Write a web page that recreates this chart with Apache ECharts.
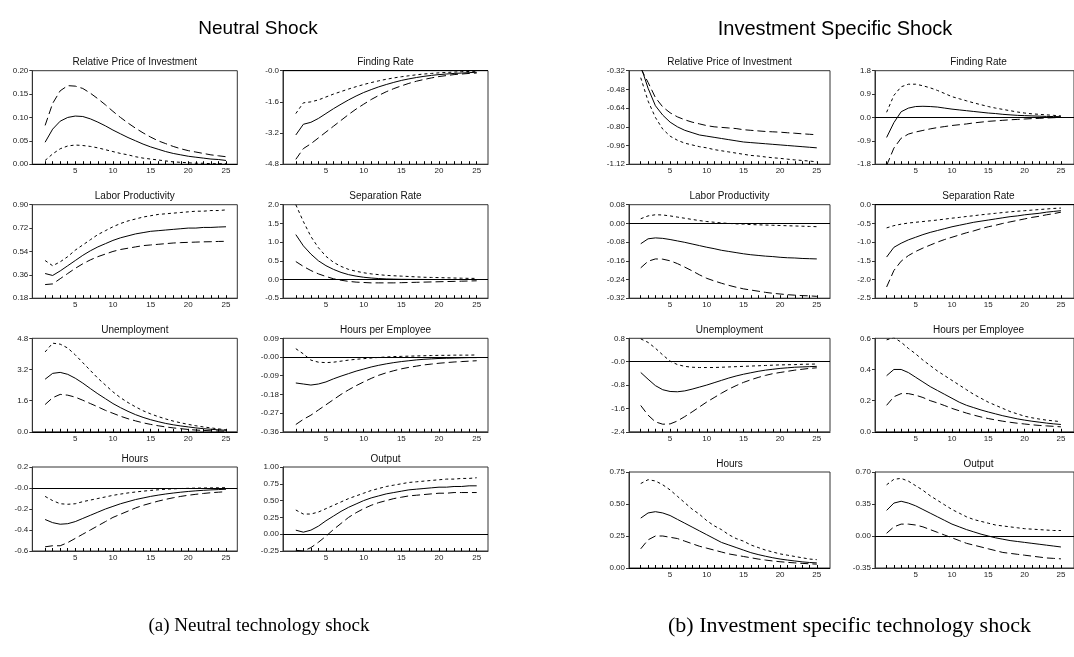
<!DOCTYPE html>
<html><head><meta charset="utf-8">
<script src="https://cdn.jsdelivr.net/npm/echarts@6/dist/echarts.min.js"></script>
<style>html,body{margin:0;padding:0;background:#fff}#c{width:1074px;height:657px}</style>
</head><body><div id="c"></div>
<script>
// ---------- DATA ----------
const periods = [1,2,3,4,5,6,7,8,9,10,11,12,13,14,15,16,17,18,19,20,21,22,23,24,25];
const xLabels = [5,10,15,20,25];

// Neutral shock
const n_rpi_mid   = [0.047,0.075,0.092,0.100,0.103,0.102,0.097,0.090,0.082,0.073,0.065,0.057,0.050,0.043,0.037,0.032,0.027,0.023,0.020,0.017,0.015,0.013,0.011,0.010,0.008];
const n_rpi_long  = [0.083,0.130,0.157,0.168,0.167,0.162,0.152,0.140,0.127,0.113,0.100,0.088,0.077,0.067,0.058,0.050,0.044,0.038,0.033,0.029,0.026,0.023,0.020,0.018,0.016];
const n_rpi_short = [0.008,0.022,0.033,0.039,0.041,0.040,0.038,0.035,0.031,0.027,0.023,0.020,0.016,0.013,0.011,0.009,0.007,0.005,0.004,0.003,0.002,0.002,0.001,0.001,0.001];
const n_rpi_ticks = ['0.00','0.05','0.10','0.15','0.20'];

const n_fr_mid   = [-3.3,-2.75,-2.65,-2.45,-2.2,-1.95,-1.72,-1.5,-1.3,-1.12,-0.97,-0.83,-0.71,-0.6,-0.5,-0.42,-0.35,-0.29,-0.24,-0.2,-0.17,-0.14,-0.12,-0.1,-0.08];
const n_fr_short = [-2.2,-1.65,-1.6,-1.5,-1.35,-1.2,-1.07,-0.94,-0.82,-0.71,-0.61,-0.52,-0.44,-0.37,-0.31,-0.26,-0.21,-0.17,-0.14,-0.11,-0.09,-0.07,-0.05,-0.04,-0.03];
const n_fr_long  = [-4.55,-4.0,-3.75,-3.45,-3.15,-2.85,-2.55,-2.25,-1.97,-1.72,-1.48,-1.27,-1.08,-0.92,-0.78,-0.65,-0.54,-0.45,-0.37,-0.3,-0.25,-0.2,-0.17,-0.14,-0.12];
const n_fr_ticks = ['-4.8','-3.2','-1.6','-0.0'];

const n_lp_mid   = [0.37,0.355,0.39,0.43,0.47,0.51,0.545,0.575,0.60,0.625,0.645,0.66,0.675,0.685,0.695,0.70,0.705,0.71,0.715,0.72,0.72,0.725,0.725,0.728,0.73];
const n_lp_short = [0.47,0.43,0.46,0.50,0.55,0.59,0.63,0.67,0.70,0.73,0.755,0.775,0.79,0.805,0.815,0.825,0.83,0.835,0.84,0.845,0.85,0.85,0.855,0.855,0.86];
const n_lp_long  = [0.285,0.29,0.33,0.37,0.41,0.445,0.475,0.50,0.52,0.54,0.555,0.565,0.575,0.585,0.59,0.595,0.60,0.605,0.608,0.61,0.612,0.614,0.615,0.617,0.618];
const n_lp_ticks = ['0.18','0.36','0.54','0.72','0.90'];

const n_sep_mid   = [1.2,0.9,0.68,0.5,0.37,0.27,0.19,0.13,0.09,0.06,0.04,0.025,0.015,0.01,0.005,0.003,0.002,0.001,0.0,0.0,0.0,0.0,0.0,0.0,0.0];
const n_sep_short = [2.0,1.55,1.15,0.85,0.62,0.46,0.35,0.27,0.22,0.18,0.15,0.13,0.11,0.1,0.09,0.08,0.07,0.06,0.055,0.05,0.045,0.04,0.035,0.03,0.03];
const n_sep_long  = [0.48,0.35,0.24,0.15,0.08,0.02,-0.02,-0.05,-0.07,-0.08,-0.09,-0.09,-0.09,-0.09,-0.085,-0.08,-0.075,-0.07,-0.065,-0.06,-0.055,-0.05,-0.045,-0.04,-0.035];
const n_sep_ticks = ['-0.5','0.0','0.5','1.0','1.5','2.0'];

const n_un_mid   = [2.7,3.0,3.05,2.95,2.75,2.5,2.22,1.95,1.7,1.45,1.24,1.05,0.88,0.74,0.62,0.52,0.43,0.36,0.3,0.25,0.2,0.16,0.13,0.1,0.08];
const n_un_short = [4.1,4.55,4.5,4.3,3.95,3.55,3.15,2.75,2.4,2.05,1.75,1.5,1.28,1.08,0.92,0.78,0.66,0.55,0.46,0.38,0.31,0.25,0.2,0.15,0.1];
const n_un_long  = [1.4,1.75,1.92,1.88,1.78,1.62,1.45,1.28,1.1,0.95,0.8,0.67,0.56,0.46,0.38,0.31,0.25,0.2,0.16,0.12,0.09,0.07,0.05,0.04,0.03];
const n_un_ticks = ['0.0','1.6','3.2','4.8'];

const n_hpe_mid   = [-0.125,-0.13,-0.135,-0.13,-0.12,-0.105,-0.092,-0.08,-0.068,-0.058,-0.048,-0.04,-0.033,-0.027,-0.022,-0.018,-0.014,-0.011,-0.009,-0.007,-0.006,-0.005,-0.004,-0.003,-0.003];
const n_hpe_short = [0.04,0.015,-0.015,-0.025,-0.027,-0.025,-0.02,-0.015,-0.011,-0.008,-0.005,-0.002,0.0,0.002,0.003,0.004,0.005,0.006,0.007,0.008,0.008,0.009,0.009,0.009,0.01];
const n_hpe_long  = [-0.325,-0.3,-0.28,-0.255,-0.23,-0.205,-0.18,-0.158,-0.138,-0.12,-0.103,-0.088,-0.076,-0.066,-0.057,-0.05,-0.044,-0.038,-0.034,-0.03,-0.027,-0.024,-0.022,-0.02,-0.018];
const n_hpe_ticks = ['-0.36','-0.27','-0.18','-0.09','-0.00','0.09'];

const n_h_mid   = [-0.30,-0.33,-0.345,-0.34,-0.32,-0.29,-0.26,-0.23,-0.2,-0.175,-0.15,-0.13,-0.11,-0.095,-0.08,-0.068,-0.057,-0.048,-0.04,-0.033,-0.027,-0.022,-0.018,-0.015,-0.012];
const n_h_short = [-0.08,-0.12,-0.15,-0.155,-0.15,-0.13,-0.115,-0.1,-0.085,-0.07,-0.058,-0.047,-0.038,-0.03,-0.023,-0.017,-0.012,-0.008,-0.005,-0.003,-0.001,0.0,0.001,0.002,0.003];
const n_h_long  = [-0.56,-0.55,-0.55,-0.52,-0.48,-0.44,-0.4,-0.36,-0.32,-0.28,-0.25,-0.22,-0.19,-0.165,-0.145,-0.125,-0.108,-0.093,-0.08,-0.069,-0.06,-0.052,-0.045,-0.04,-0.035];
const n_h_ticks = ['-0.6','-0.4','-0.2','-0.0','0.2'];

const n_out_mid   = [0.06,0.03,0.06,0.12,0.2,0.27,0.34,0.4,0.45,0.5,0.54,0.57,0.6,0.62,0.64,0.66,0.67,0.68,0.69,0.7,0.7,0.71,0.71,0.72,0.72];
const n_out_short = [0.36,0.3,0.3,0.33,0.38,0.43,0.48,0.53,0.57,0.61,0.65,0.68,0.71,0.73,0.75,0.77,0.78,0.79,0.8,0.81,0.82,0.82,0.83,0.83,0.84];
const n_out_long  = [-0.24,-0.25,-0.2,-0.12,-0.03,0.07,0.16,0.25,0.32,0.38,0.43,0.47,0.5,0.53,0.55,0.57,0.58,0.59,0.6,0.61,0.61,0.62,0.62,0.62,0.62];
const n_out_ticks = ['-0.25','0.00','0.25','0.50','0.75','1.00'];

// Investment specific shock
const i_rpi_mid   = [-0.28,-0.47,-0.62,-0.70,-0.76,-0.80,-0.83,-0.85,-0.87,-0.88,-0.89,-0.90,-0.91,-0.92,-0.93,-0.935,-0.94,-0.945,-0.95,-0.955,-0.96,-0.965,-0.97,-0.975,-0.98];
const i_rpi_long  = [-0.30,-0.42,-0.55,-0.63,-0.68,-0.715,-0.74,-0.76,-0.775,-0.79,-0.80,-0.805,-0.81,-0.815,-0.825,-0.83,-0.835,-0.84,-0.843,-0.846,-0.851,-0.855,-0.86,-0.864,-0.868];
const i_rpi_short = [-0.38,-0.58,-0.72,-0.82,-0.88,-0.915,-0.94,-0.955,-0.97,-0.98,-0.995,-1.005,-1.015,-1.025,-1.035,-1.045,-1.05,-1.058,-1.065,-1.07,-1.077,-1.083,-1.088,-1.093,-1.10];
const i_rpi_ticks = ['-1.12','-0.96','-0.80','-0.64','-0.48','-0.32'];

const i_fr_mid   = [-0.77,-0.2,0.22,0.36,0.42,0.43,0.42,0.4,0.36,0.32,0.29,0.26,0.23,0.2,0.17,0.15,0.12,0.1,0.08,0.07,0.06,0.05,0.04,0.035,0.03];
const i_fr_short = [0.2,0.85,1.18,1.28,1.28,1.22,1.14,1.04,0.92,0.8,0.72,0.64,0.56,0.49,0.42,0.36,0.31,0.26,0.21,0.17,0.14,0.12,0.1,0.08,0.06];
const i_fr_long  = [-1.85,-1.18,-0.8,-0.64,-0.56,-0.5,-0.44,-0.39,-0.35,-0.31,-0.28,-0.25,-0.21,-0.18,-0.15,-0.13,-0.11,-0.09,-0.075,-0.06,-0.045,-0.035,-0.02,-0.01,0.0];
const i_fr_ticks = ['-1.8','-0.9','0.0','0.9','1.8'];

const i_lp_mid   = [-0.087,-0.066,-0.062,-0.064,-0.069,-0.075,-0.081,-0.088,-0.095,-0.102,-0.108,-0.115,-0.12,-0.125,-0.13,-0.134,-0.137,-0.14,-0.142,-0.145,-0.147,-0.148,-0.15,-0.151,-0.152];
const i_lp_short = [0.02,0.032,0.037,0.036,0.032,0.027,0.022,0.017,0.012,0.008,0.005,0.002,0.0,-0.002,-0.003,-0.005,-0.006,-0.007,-0.008,-0.009,-0.01,-0.011,-0.012,-0.013,-0.014];
const i_lp_long  = [-0.19,-0.162,-0.152,-0.153,-0.16,-0.172,-0.187,-0.203,-0.22,-0.235,-0.246,-0.256,-0.265,-0.273,-0.28,-0.285,-0.29,-0.295,-0.299,-0.302,-0.305,-0.307,-0.309,-0.31,-0.312];
const i_lp_ticks = ['-0.32','-0.24','-0.16','-0.08','0.00','0.08'];

const i_sep_mid   = [-1.4,-1.14,-1.03,-0.94,-0.87,-0.8,-0.74,-0.69,-0.64,-0.59,-0.55,-0.51,-0.47,-0.44,-0.41,-0.38,-0.35,-0.32,-0.3,-0.27,-0.25,-0.23,-0.2,-0.18,-0.16];
const i_sep_short = [-0.62,-0.56,-0.52,-0.49,-0.47,-0.45,-0.43,-0.41,-0.385,-0.36,-0.34,-0.315,-0.295,-0.27,-0.25,-0.23,-0.21,-0.19,-0.175,-0.16,-0.145,-0.13,-0.115,-0.1,-0.09];
const i_sep_long  = [-2.2,-1.76,-1.51,-1.36,-1.25,-1.16,-1.08,-1.0,-0.93,-0.87,-0.81,-0.75,-0.7,-0.64,-0.59,-0.55,-0.5,-0.46,-0.42,-0.38,-0.34,-0.31,-0.27,-0.24,-0.2];
const i_sep_ticks = ['-2.5','-2.0','-1.5','-1.0','-0.5','0.0'];

const i_un_mid   = [-0.37,-0.6,-0.82,-0.96,-1.02,-1.03,-1.0,-0.94,-0.87,-0.8,-0.72,-0.64,-0.56,-0.49,-0.43,-0.38,-0.33,-0.29,-0.26,-0.23,-0.21,-0.19,-0.18,-0.17,-0.16];
const i_un_short = [0.78,0.66,0.46,0.23,0.02,-0.1,-0.16,-0.19,-0.2,-0.2,-0.2,-0.19,-0.18,-0.17,-0.16,-0.15,-0.14,-0.13,-0.12,-0.11,-0.105,-0.1,-0.09,-0.085,-0.08];
const i_un_long  = [-1.5,-1.83,-2.06,-2.14,-2.13,-2.03,-1.88,-1.72,-1.55,-1.38,-1.23,-1.08,-0.94,-0.82,-0.71,-0.62,-0.54,-0.47,-0.41,-0.37,-0.33,-0.29,-0.26,-0.23,-0.21];
const i_un_ticks = ['-2.4','-1.6','-0.8','-0.0','0.8'];

const i_hpe_mid   = [0.36,0.4,0.4,0.38,0.35,0.32,0.29,0.265,0.24,0.215,0.19,0.17,0.155,0.14,0.127,0.115,0.103,0.093,0.083,0.075,0.068,0.062,0.056,0.051,0.047];
const i_hpe_short = [0.59,0.605,0.575,0.535,0.5,0.46,0.425,0.39,0.36,0.33,0.3,0.27,0.24,0.215,0.19,0.17,0.15,0.13,0.115,0.1,0.09,0.082,0.075,0.07,0.065];
const i_hpe_long  = [0.17,0.225,0.245,0.245,0.235,0.22,0.2,0.185,0.168,0.15,0.135,0.12,0.107,0.095,0.085,0.076,0.068,0.061,0.055,0.05,0.045,0.041,0.038,0.035,0.032];
const i_hpe_ticks = ['0.0','0.2','0.4','0.6'];

const i_h_mid   = [0.39,0.43,0.44,0.43,0.41,0.38,0.35,0.32,0.29,0.26,0.23,0.2,0.18,0.16,0.14,0.12,0.105,0.092,0.08,0.07,0.062,0.055,0.048,0.043,0.04];
const i_h_short = [0.66,0.69,0.68,0.65,0.61,0.56,0.51,0.46,0.42,0.37,0.33,0.3,0.26,0.23,0.21,0.18,0.16,0.14,0.125,0.11,0.1,0.09,0.08,0.07,0.065];
const i_h_long  = [0.15,0.22,0.25,0.25,0.24,0.23,0.21,0.19,0.17,0.155,0.14,0.125,0.11,0.1,0.09,0.08,0.07,0.062,0.055,0.049,0.044,0.04,0.036,0.033,0.03];
const i_h_ticks = ['0.00','0.25','0.50','0.75'];

const i_out_mid   = [0.28,0.36,0.38,0.36,0.33,0.29,0.25,0.21,0.17,0.13,0.1,0.07,0.045,0.02,0.0,-0.02,-0.035,-0.05,-0.06,-0.07,-0.08,-0.09,-0.1,-0.11,-0.12];
const i_out_short = [0.56,0.62,0.63,0.6,0.55,0.5,0.44,0.39,0.34,0.29,0.25,0.21,0.18,0.16,0.14,0.12,0.11,0.1,0.09,0.08,0.075,0.07,0.065,0.06,0.06];
const i_out_long  = [0.03,0.1,0.13,0.13,0.12,0.1,0.07,0.04,0.01,-0.02,-0.05,-0.08,-0.1,-0.12,-0.14,-0.16,-0.18,-0.19,-0.2,-0.21,-0.22,-0.23,-0.24,-0.245,-0.25];
const i_out_ticks = ['-0.35','0.00','0.35','0.70'];

// ---------- PANELS ----------
const panels = [
  {b:0,r:0,c:0,t:'Relative Price of Investment',m:n_rpi_mid,s:n_rpi_short,l:n_rpi_long,k:n_rpi_ticks},
  {b:0,r:0,c:1,t:'Finding Rate',m:n_fr_mid,s:n_fr_short,l:n_fr_long,k:n_fr_ticks},
  {b:0,r:1,c:0,t:'Labor Productivity',m:n_lp_mid,s:n_lp_short,l:n_lp_long,k:n_lp_ticks},
  {b:0,r:1,c:1,t:'Separation Rate',m:n_sep_mid,s:n_sep_short,l:n_sep_long,k:n_sep_ticks},
  {b:0,r:2,c:0,t:'Unemployment',m:n_un_mid,s:n_un_short,l:n_un_long,k:n_un_ticks},
  {b:0,r:2,c:1,t:'Hours per Employee',m:n_hpe_mid,s:n_hpe_short,l:n_hpe_long,k:n_hpe_ticks},
  {b:0,r:3,c:0,t:'Hours',m:n_h_mid,s:n_h_short,l:n_h_long,k:n_h_ticks},
  {b:0,r:3,c:1,t:'Output',m:n_out_mid,s:n_out_short,l:n_out_long,k:n_out_ticks},
  {b:1,r:0,c:0,t:'Relative Price of Investment',m:i_rpi_mid,s:i_rpi_short,l:i_rpi_long,k:i_rpi_ticks},
  {b:1,r:0,c:1,t:'Finding Rate',m:i_fr_mid,s:i_fr_short,l:i_fr_long,k:i_fr_ticks},
  {b:1,r:1,c:0,t:'Labor Productivity',m:i_lp_mid,s:i_lp_short,l:i_lp_long,k:i_lp_ticks},
  {b:1,r:1,c:1,t:'Separation Rate',m:i_sep_mid,s:i_sep_short,l:i_sep_long,k:i_sep_ticks},
  {b:1,r:2,c:0,t:'Unemployment',m:i_un_mid,s:i_un_short,l:i_un_long,k:i_un_ticks},
  {b:1,r:2,c:1,t:'Hours per Employee',m:i_hpe_mid,s:i_hpe_short,l:i_hpe_long,k:i_hpe_ticks},
  {b:1,r:3,c:0,t:'Hours',m:i_h_mid,s:i_h_short,l:i_h_long,k:i_h_ticks},
  {b:1,r:3,c:1,t:'Output',m:i_out_mid,s:i_out_short,l:i_out_long,k:i_out_ticks}
];

// ---------- LAYOUT ----------
const blocks = [
  {left:[32.3,283], width:[205,205], xmin:-0.7, xmax:26.5, rowTop:[70.7,204.7,338.3,467], rowH:[93.5,93.5,93.5,84]},
  {left:[629,875], width:[201,207], xmin:-0.6, xmax:26.8, rowTop:[70.7,204.7,338.3,472], rowH:[93.5,93.5,93.5,96]}
];
const FONT = "'Liberation Sans', Arial, sans-serif";
const AX = '#333';

const grids=[], xAxes=[], yAxes=[], series=[], graphics=[];
panels.forEach((p,i)=>{
  const B = blocks[p.b];
  const left = B.left[p.c], w = B.width[p.c], top = B.rowTop[p.r], h = B.rowH[p.r];
  grids.push({left:left, top:top, width:w, height:h, show:true, borderColor:AX, borderWidth:1, containLabel:false});
  xAxes.push({type:'value', gridIndex:i, min:B.xmin, max:B.xmax,
    axisLine:{show:true, onZero:false, lineStyle:{color:AX,width:1}},
    axisTick:{show:true, inside:true, length:3, customValues:periods, lineStyle:{color:'#000'}},
    axisLabel:{show:true, customValues:xLabels, fontSize:8, fontFamily:FONT, color:'#222', margin:3},
    splitLine:{show:false}});
  const vals = p.k.map(parseFloat);
  const ymin = vals[0], ymax = vals[vals.length-1], iv = (ymax-ymin)/(vals.length-1);
  const labs = p.k;
  yAxes.push({type:'value', gridIndex:i, min:ymin, max:ymax, interval:iv,
    axisLine:{show:true, onZero:false, lineStyle:{color:AX,width:1}},
    axisTick:{show:true, inside:false, length:3, lineStyle:{color:AX}},
    axisLabel:{fontSize:8, fontFamily:FONT, color:'#222', margin:4,
      formatter:(v)=>{const j=Math.round((v-ymin)/iv); return labs[j]!==undefined?labs[j]:'';}},
    splitLine:{show:false}});
  const mk = (arr)=>periods.map((t,j)=>[t,arr[j]]);
  const base = {type:'line', xAxisIndex:i, yAxisIndex:i, showSymbol:false, symbol:'none', silent:true, animation:false, clip:true};
  series.push(Object.assign({}, base, {data:mk(p.m), lineStyle:{color:'#000', width:1, type:'solid'},
    markLine:{silent:true, symbol:'none', label:{show:false}, animation:false,
      lineStyle:{color:'#000', width:1, type:'solid'}, data:[{yAxis:0}]}}));
  series.push(Object.assign({}, base, {data:mk(p.s), lineStyle:{color:'#000', width:1, type:[3,3]}}));
  series.push(Object.assign({}, base, {data:mk(p.l), lineStyle:{color:'#000', width:1, type:[8,4]}}));
  graphics.push({type:'text', x:left+w/2, y:top-8, style:{text:p.t, font:'10px '+FONT, fill:'#111', textAlign:'center', textVerticalAlign:'middle'}, silent:true});
});

graphics.push({type:'text', x:258, y:29, style:{text:'Neutral Shock', font:'19px '+FONT, fill:'#000', textAlign:'center', textVerticalAlign:'middle'}});
graphics.push({type:'text', x:835, y:29, style:{text:'Investment Specific Shock', font:'20px '+FONT, fill:'#000', textAlign:'center', textVerticalAlign:'middle'}});
graphics.push({type:'text', x:259, y:626, style:{text:'(a) Neutral technology shock', font:"19px 'Liberation Serif', 'DejaVu Serif', serif", fill:'#000', textAlign:'center', textVerticalAlign:'middle'}});
graphics.push({type:'text', x:668, y:626, style:{text:'(b) Investment specific technology shock', font:"22px 'Liberation Serif', 'DejaVu Serif', serif", fill:'#000', textAlign:'left', textVerticalAlign:'middle'}});

const chart = echarts.init(document.getElementById('c'), null, {renderer:'canvas'});
chart.setOption({animation:false, backgroundColor:'#fff', grid:grids, xAxis:xAxes, yAxis:yAxes, series:series, graphic:graphics});
</script></body></html>
